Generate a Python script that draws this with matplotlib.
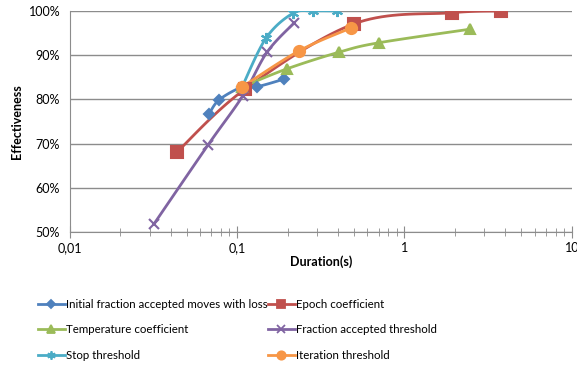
import numpy as np
import matplotlib
matplotlib.use("Agg")
import matplotlib.pyplot as plt
from matplotlib.ticker import FixedLocator, FuncFormatter, NullFormatter

plt.rcParams['font.family'] = ['Lato', 'DejaVu Sans']

# values (duration in s, effectiveness in %)
initial_x = [0.068, 0.078, 0.107, 0.132, 0.191]
initial_y = [76.7, 79.9, 82.8, 82.9, 84.6]

epoch_x = [0.0437, 0.112, 0.50, 1.91, 3.76]
epoch_y = [68.1, 82.4, 97.1, 99.6, 100.0]

temp_x = [0.107, 0.198, 0.408, 0.70, 2.48]
temp_y = [82.8, 86.9, 90.7, 92.8, 95.9]

fraction_x = [0.0318, 0.067, 0.108, 0.151, 0.219]
fraction_y = [51.8, 69.7, 80.8, 90.7, 97.3]

stop_x = [0.107, 0.149, 0.216, 0.285, 0.397]
stop_y = [82.8, 93.9, 99.5, 100.0, 100.0]

iter_x = [0.107, 0.235, 0.482]
iter_y = [82.8, 91.0, 96.2]

labels = ["Initial fraction accepted moves with loss", "Epoch coefficient",
          "Temperature coefficient", "Fraction accepted threshold",
          "Stop threshold", "Iteration threshold"]
colors = ["#4F81BD", "#C0504D", "#9BBB59", "#8064A2", "#4BACC6", "#F79646"]
markers = ["D", "s", "^", "x", (6, 2, 0), "o"]
msizes = [5, 8.5, 7, 7, 8, 8]


def smooth(xs, ys, n=20):
    # catmull-rom through the points in log-x space, like Excel's smoothed line
    lx = np.log10(xs)
    p = np.column_stack([lx, ys])
    p = np.vstack([p[0], p, p[-1]])
    out = []
    t = np.linspace(0, 1, n)
    for i in range(1, len(p) - 2):
        p0, p1, p2, p3 = p[i - 1], p[i], p[i + 1], p[i + 2]
        seg = 0.5 * ((2 * p1)[None, :] + np.outer(t, -p0 + p2)
                     + np.outer(t**2, 2 * p0 - 5 * p1 + 4 * p2 - p3)
                     + np.outer(t**3, -p0 + 3 * p1 - 3 * p2 + p3))
        out.append(seg)
    out = np.vstack(out)
    return 10 ** out[:, 0], out[:, 1]


fig = plt.figure(figsize=(5.77, 3.66), dpi=100)
ax = fig.add_axes([0.121, 0.366, 0.870, 0.604])

series = [(initial_x, initial_y), (epoch_x, epoch_y), (temp_x, temp_y),
          (fraction_x, fraction_y), (stop_x, stop_y), (iter_x, iter_y)]
handles = []
for (xs, ys), lab, c, m, ms in zip(series, labels, colors, markers, msizes):
    sx, sy = smooth(xs, ys)
    ax.plot(sx, sy, color=c, lw=2, zorder=3)
    ax.plot(xs, ys, ls="none", marker=m, color=c, ms=ms, mew=1.5, zorder=4)
    h, = plt.plot([], [], color=c, lw=2, marker=m, ms=ms * 0.75, mew=1.3)
    handles.append(h)

ax.set_xscale("log")
ax.set_xlim(0.01, 10)
ax.set_ylim(50, 100)
ax.set_yticks([50, 60, 70, 80, 90, 100])
ax.yaxis.set_major_formatter(FuncFormatter(lambda v, p: "%d%%" % v))
ax.xaxis.set_major_locator(FixedLocator([0.01, 0.1, 1, 10]))
ax.xaxis.set_major_formatter(FuncFormatter(lambda v, p: ("%g" % v).replace(".", ",")))
ax.xaxis.set_minor_formatter(NullFormatter())
ax.grid(axis="y", color="#8c8c8c", lw=1)
ax.set_axisbelow(True)
for s in ["top", "right"]:
    ax.spines[s].set_visible(False)
for s in ["left", "bottom"]:
    ax.spines[s].set_color("#8c8c8c")
ax.tick_params(axis="y", length=0, labelsize=9, pad=7)
ax.tick_params(axis="x", which="major", direction="inout", length=8, color="#8c8c8c",
               labelsize=9, pad=3)
ax.tick_params(axis="x", which="minor", direction="inout", length=6, color="#8c8c8c")
ax.set_xlabel("Duration(s)", fontsize=9, fontweight="bold", labelpad=1)
ax.set_ylabel("Effectiveness", fontsize=9, fontweight="bold", labelpad=4)

order = [0, 2, 4, 1, 3, 5]
fig.legend([handles[i] for i in order], [labels[i] for i in order], ncol=2,
           loc="lower left", bbox_to_anchor=(0.048, -0.014), frameon=False,
           fontsize=8.3, handlelength=2.3, handletextpad=0.1, columnspacing=0.05,
           labelspacing=1.25)

fig.savefig("out.png", dpi=100)
